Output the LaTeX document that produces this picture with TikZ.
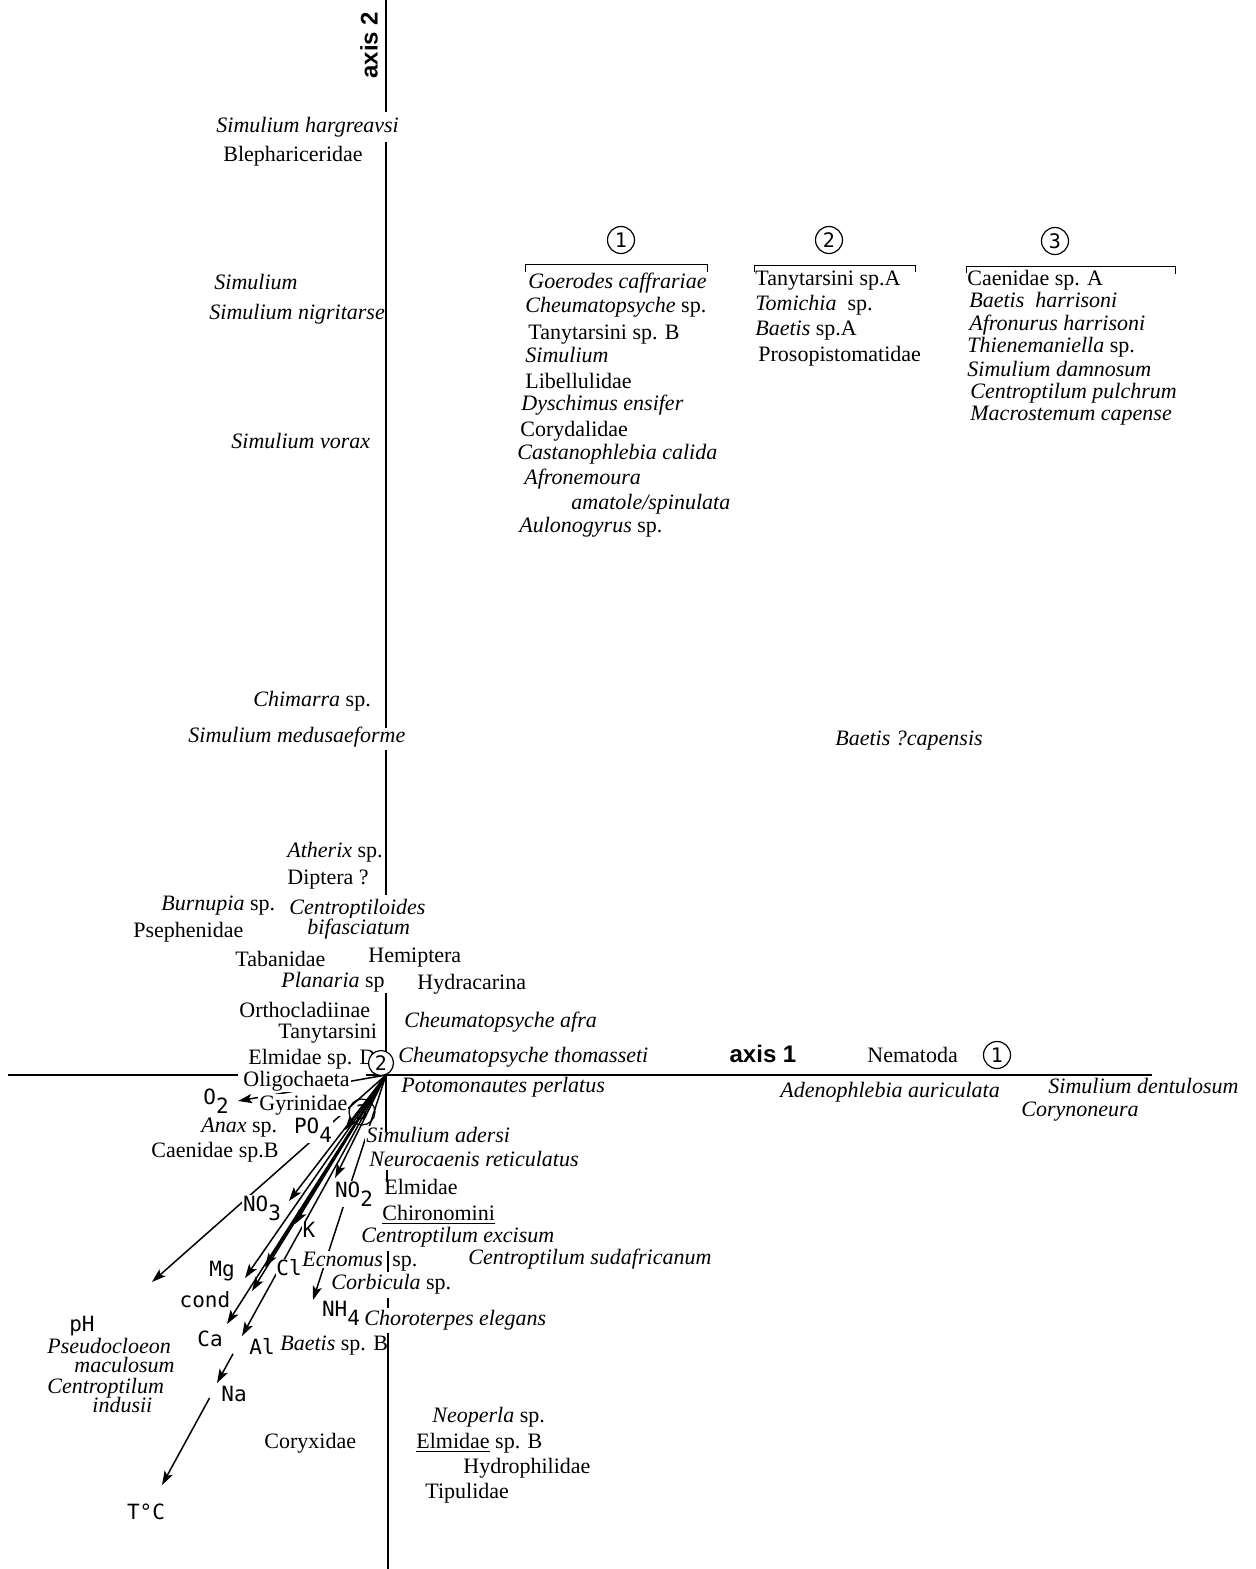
\documentclass[tikz,border=0pt]{standalone}
\usepackage{fontspec}
\setmainfont{Liberation Serif}
\newfontfamily\plotf{DejaVu Sans Mono}
\newfontfamily\axisf{Liberation Sans}
\usetikzlibrary{arrows.meta}
\newcommand{\lowr}[1]{\raisebox{-0.8ex}{#1}}
\begin{document}
\begin{tikzpicture}[x=0.5pt,y=-0.5pt,
  sp/.style={anchor=mid west, inner sep=0.5pt, fill=white, font=\fontsize{11}{13}\selectfont},
  spn/.style={anchor=mid west, inner sep=0.5pt, font=\fontsize{11}{13}\selectfont},
  env/.style={inner sep=0.3pt, fill=white, font=\plotf\fontsize{10.5}{12}\selectfont},
  num/.style={circle, draw, line width=0.6pt, inner sep=0pt, minimum size=13.5pt, font=\plotf\fontsize{10}{12}\selectfont},
  axl/.style={inner sep=0pt, font=\axisf\bfseries\fontsize{12}{14}\selectfont},
  vec/.style={line width=0.75pt, -{Stealth[length=7pt,width=4.6pt,inset=1.6pt]}},
  axisline/.style={line width=0.9pt},
  brk/.style={line width=0.5pt}]
\useasboundingbox (0,0) rectangle (1255,1569);
\fill[white] (0,0) rectangle (1255,1569);

% ---------- environmental vectors ----------
\coordinate (O) at (386,1075);
\coordinate (eO2) at (238,1101);
\coordinate (ePO4) at (345,1130);
\coordinate (ePH) at (152,1282);
\coordinate (eNO3) at (289,1201);
\coordinate (eNO2) at (335,1178);
\coordinate (eK) at (295,1224);
\coordinate (eCl) at (265,1267);
\coordinate (eMg) at (245,1278);
\coordinate (econd) at (252,1291);
\coordinate (eCa) at (227,1324);
\coordinate (eNH4) at (313,1300);
\coordinate (eAl) at (242,1336);
\coordinate (eNa) at (217,1383);
\coordinate (eTC) at (162,1485);

\draw[vec] (O) -- (eO2);
\draw[vec] (O) -- (ePO4);
\draw[vec] (O) -- (ePH);
\draw[vec] (O) -- (eNO3);
\draw[vec] (O) -- (eNO2);
\draw[vec] (O) -- (eK);
\draw[vec] (O) -- (eCl);
\draw[vec] (O) -- (eMg);
\draw[vec] (O) -- (econd);
\draw[vec] (O) -- (eCa);
\draw[vec] (O) -- (eNH4);
\draw[vec] (O) -- (eAl);
\draw[vec, shorten <=159pt] (O) -- (eNa);
\draw[vec, shorten <=184pt] (O) -- (eTC);

% ---------- species, left of axis 2 ----------
\node[sp] (hargr) at (215,128) {\textit{Simulium hargreavsi}};
\node[spn] (bleph) at (222,157) {Blephariceridae};
\node[spn] (sim1) at (213,285) {\textit{Simulium}};
\node[spn] (nigr) at (208,315) {\textit{Simulium nigritarse}};
\node[spn] (vorax) at (230,444) {\textit{Simulium vorax}};
\node[spn] (chim) at (252,702) {\textit{Chimarra} sp.};
\node[sp] (medusa) at (187,738) {\textit{Simulium medusaeforme}};
\node[spn] (atherix) at (286,853) {\textit{Atherix} sp.};
\node[spn] (diptera) at (286,880) {Diptera ?};
\node[sp] (burn) at (160,906) {\textit{Burnupia} sp.};
\node[sp] (pseph) at (132,933) {Psephenidae};
\node[sp] (centroides) at (288,910) {\textit{Centroptiloides}};
\node[sp] (bifasc) at (306,930) {\textit{bifasciatum}};
\node[sp] (taban) at (234,962) {Tabanidae};
\node[sp] (hemip) at (367,958) {Hemiptera};
\node[spn] (planaria) at (280,983) {\textit{Planaria} sp};
\node[sp] (hydrac) at (416,985) {Hydracarina};
\node[spn] (orthoc) at (238,1013) {Orthocladiinae};
\node[spn] (tanyt) at (277,1034) {Tanytarsini};
\node[sp] (cafra) at (403,1023) {\textit{Cheumatopsyche afra}};
\node[sp] (elmD) at (247,1060) {Elmidae sp. D};
\node[spn] (cthom) at (397,1058) {\textit{Cheumatopsyche thomasseti}};
\node[sp] (oligo) at (242,1082) {Oligochaeta};
\node[spn] (potom) at (400,1088) {\textit{Potomonautes perlatus}};
\node[sp] (gyrin) at (258,1106) {Gyrinidae};
\node[sp] (anax) at (200,1128) {\textit{Anax} sp.};
\node[sp] (caenB) at (150,1153) {Caenidae sp.B};
\node[sp] (sadersi) at (365,1138) {\textit{Simulium adersi}};
\node[sp] (neuro) at (368,1162) {\textit{Neurocaenis reticulatus}};
\node[sp] (elmidae) at (383,1190) {Elmidae};
\node[sp] (chiron) at (381,1216) {\underline{Chironomini}};
\node[sp] (cexcis) at (360,1238) {\textit{Centroptilum excisum}};
\node[sp] (ecnom) at (301,1262) {\textit{Ecnomus}};
\node[sp] (ecsp) at (391,1262) {sp.};
\node[sp] (csudaf) at (467,1260) {\textit{Centroptilum sudafricanum}};
\node[sp] (corbic) at (330,1285) {\textit{Corbicula} sp.};
\node[sp] (choro) at (363,1321) {\textit{Choroterpes elegans}};
\node[sp] (baetisB) at (279,1346) {\textit{Baetis} sp. B};
\node[spn, inner sep=0pt] (pseudo) at (47,1349) {\textit{Pseudocloeon}};
\node[spn, inner sep=0pt] (macul) at (74,1368) {\textit{maculosum}};
\node[spn, inner sep=0pt] (centind) at (47,1389) {\textit{Centroptilum}};
\node[spn, inner sep=0pt] (indusii) at (92,1408) {\textit{indusii}};
\node[sp] (neoperla) at (431,1418) {\textit{Neoperla} sp.};
\node[sp] (coryx) at (263,1444) {Coryxidae};
\node[sp] (elmB) at (415,1444) {\underline{Elmidae} sp. B};
\node[sp] (hydroph) at (462,1469) {Hydrophilidae};
\node[sp] (tipul) at (424,1494) {Tipulidae};

% ---------- right side ----------
\node[spn] (nemat) at (866,1058) {Nematoda};
\node[spn] (adeno) at (779,1093) {\textit{Adenophlebia auriculata}};
\node[spn] (sdent) at (1047,1089) {\textit{Simulium dentulosum}};
\node[spn] (coryn) at (1020,1112) {\textit{Corynoneura}};
\node[spn] (bcap) at (834,741) {\textit{Baetis ?capensis}};

% ---------- group 1 ----------
\node[spn] (g1a) at (527,284) {\textit{Goerodes caffrariae}};
\node[spn] (g1b) at (524,308) {\textit{Cheumatopsyche} sp.};
\node[spn] (g1c) at (527,335) {Tanytarsini sp. B};
\node[spn] (g1d) at (524,358) {\textit{Simulium}};
\node[spn] (g1e) at (524,384) {Libellulidae};
\node[spn] (g1f) at (520,406) {\textit{Dyschimus ensifer}};
\node[spn] (g1g) at (519,432) {Corydalidae};
\node[spn] (g1h) at (516,455) {\textit{Castanophlebia calida}};
\node[spn] (g1i) at (523,480) {\textit{Afronemoura}};
\node[spn] (g1j) at (570,505) {\textit{amatole/spinulata}};
\node[spn] (g1k) at (518,528) {\textit{Aulonogyrus} sp.};
% ---------- group 2 ----------
\node[spn] (g2a) at (754,281) {Tanytarsini sp.A};
\node[spn] (g2b) at (754,306) {\textit{Tomichia}\ \ sp.};
\node[spn] (g2c) at (754,331) {\textit{Baetis} sp.A};
\node[spn] (g2d) at (757,357) {Prosopistomatidae};
% ---------- group 3 ----------
\node[spn] (g3a) at (966,281) {Caenidae\ sp. A};
\node[spn] (g3b) at (968,303) {\textit{Baetis\ \ harrisoni}};
\node[spn] (g3c) at (968,326) {\textit{Afronurus harrisoni}};
\node[spn] (g3d) at (966,348) {\textit{Thienemaniella}\ sp.};
\node[spn] (g3e) at (966,372) {\textit{Simulium damnosum}};
\node[spn] (g3f) at (969,394) {\textit{Centroptilum\ pulchrum}};
\node[spn] (g3g) at (969,416) {\textit{Macrostemum\ capense}};

% group headers and brackets
\node[num] (gn1) at (621,240) {1};
\node[num] (gn2) at (829,240) {2};
\node[num] (gn3) at (1055,241) {3};
\draw[brk] (525,272) -- (525,264) -- (707,264) -- (707,272);
\draw[brk] (754,272) -- (754,265) -- (915,265) -- (915,272);
\draw[brk] (966,273) -- (966,266) -- (1175,266) -- (1175,274);

% ---------- environmental labels ----------
\node[env] (lO2) at (216,1101) {O\lowr{2}};
\node[env] (lPO4) at (313,1130) {PO\lowr{4}};
\node[env] (lNO3) at (262,1208) {NO\lowr{3}};
\node[env] (lNO2) at (354,1194) {NO\lowr{2}};
\node[env] (lK) at (309,1230) {K};
\node[env] (lCl) at (289,1268) {Cl};
\node[env] (lMg) at (222,1271) {Mg};
\node[env] (lcond) at (205,1300) {cond};
\node[env] (lNH4) at (341,1313) {NH\lowr{4}};
\node[env] (lpH) at (82,1326) {pH};
\node[env] (lCa) at (210,1339) {Ca};
\node[env] (lAl) at (262,1346) {Al};
\node[env] (lNa) at (234,1394) {Na};
\node[env] (lTC) at (146,1512) {T°C};

% ---------- axes ----------
\draw[axisline] (386,0) -- (386,112);
\draw[axisline] (386,142) -- (386,728);
\draw[axisline] (386,750) -- (386,895);
\draw[axisline] (386,993) -- (386,1132);
\draw[axisline] (387,1170) -- (387,1182);
\draw[axisline] (388,1251) -- (388,1272);
\draw[axisline] (388,1298) -- (388,1308);
\draw[axisline] (388,1333) -- (388,1569);
\draw[axisline] (8,1075) -- (238,1075);
\draw[axisline] (366,1075) -- (1152,1075);
\node[axl, rotate=90] (ax2) at (369,45) {axis 2};
\node[axl] (ax1) at (763,1054) {axis 1};

% ---------- circled numbers on the plot ----------
\node[num, fill=white, minimum size=12.5pt] (c2) at (381,1063) {2};
\node[num, minimum size=13pt] (c3) at (362,1112) {3};
\node[num] (c1) at (997,1055) {1};
\end{tikzpicture}
\end{document}
